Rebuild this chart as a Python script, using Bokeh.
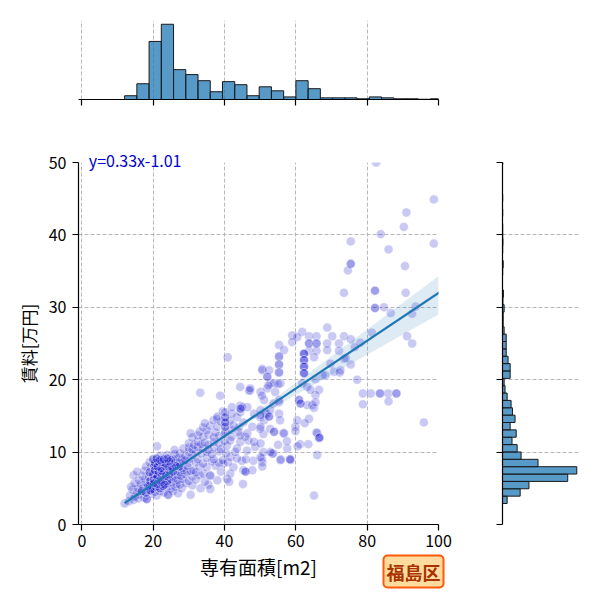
import numpy as np
from bokeh.plotting import figure
from bokeh.layouts import column, row
from bokeh.models import Range1d, Title
from bokeh.embed import file_html
from bokeh.resources import INLINE

# ---------------- data ----------------
area_m2 = [
    12.0, 13.2, 14.5, 15.8,
    13.5, 14.8, 16.2, 17.5, 18.2, 19.6, 21.0, 24.2,
    14.2, 15.5, 16.8, 18.0, 19.2, 20.5, 21.8, 23.0, 25.5, 27.0,
    13.8, 15.8, 17.2, 18.5, 19.8, 20.8, 21.9, 22.8, 23.8, 25.0, 26.2, 28.0, 30.5, 33.3,
    14.8, 16.5, 18.0, 19.0, 20.2, 21.2, 22.2, 23.2, 24.2, 25.2, 26.5, 27.5, 29.2, 31.0, 35.5,
    16.0, 17.8, 19.2, 20.2, 21.0, 22.0, 23.0, 24.0, 25.0, 26.0, 27.0, 28.2, 30.0, 32.0, 34.5, 38.0,
    14.5, 17.0, 18.8, 20.0, 21.2, 22.5, 23.5, 24.5, 25.5, 26.8, 27.8, 29.0, 31.0, 33.0, 36.0, 40.7,
    15.5, 17.5, 19.0, 20.5, 21.5, 22.5, 23.5, 24.5, 25.5, 26.5, 27.5, 28.5, 29.5, 30.5, 32.0, 34.1, 36.0, 39.0, 41.6,
    18.0, 19.3, 20.3, 21.3, 22.3, 23.3, 24.3, 25.3, 26.3, 27.3, 28.3, 29.5, 31.3, 33.0, 35.0, 37.5, 39.7, 42.5, 45.3,
    19.0, 20.5, 21.5, 22.5, 23.5, 24.5, 25.5, 26.5, 27.5, 28.5, 30.0, 32.0, 34.0, 36.5, 38.5, 41.0, 44.9, 48.1,
    20.0, 21.0, 22.0, 23.0, 24.0, 25.0, 26.0, 27.0, 28.0, 29.0, 30.5, 32.5, 35.0, 37.0, 39.5, 41.6, 43.5, 46.0, 50.5,
    22.0, 24.0, 26.0, 27.5, 29.0, 30.0, 31.0, 32.0, 33.5, 35.0, 36.5, 38.5, 40.5, 43.0, 46.3, 50.9, 53.7,
    21.1, 26.0, 28.5, 30.0, 31.0, 32.5, 34.0, 35.5, 37.0, 39.0, 40.7, 43.5, 48.6,
    30.0, 31.5, 32.5, 33.5, 34.5, 35.5, 37.0, 38.5, 40.0, 41.6, 44.4, 46.7,
    31.0, 32.5, 34.0, 35.5, 37.0, 38.5, 40.0, 42.0, 43.9, 45.8,
    30.5, 33.0, 35.0, 37.5, 40.2, 42.0, 44.4, 50.9,
    34.0, 36.0, 38.0, 40.2, 42.5, 44.0, 50.0, 52.8,
    34.5, 36.9, 37.9, 39.0, 40.2, 41.5, 43.5, 45.3,
    38.0, 40.2, 42.1, 44.4, 50.0, 51.9,
    39.5, 40.2, 42.1, 44.4, 44.5,
    33.2, 38.8, 44.4, 47.2, 40.9, 41.3, 45.2, 36.0,
    45.9, 47.8, 50.6, 50.6, 53.4, 48.3, 50.1, 46.4, 47.8, 51.1, 50.1, 51.5, 50.1, 48.3, 46.4,
    45.0, 46.9, 50.1, 52.9, 53.9, 50.6, 47.2,
    52.0, 50.6, 52.5, 52.0, 55.3, 56.7, 55.3, 55.3, 55.3, 55.7, 55.3, 55.3, 56.5, 58.4, 55.8,
    55.0, 52.9, 51.1, 50.1, 52.5, 53.9, 56.7, 59.9, 59.9, 57.6, 58.5, 55.7, 50.1, 52.3, 54.2,
    55.1, 50.5, 53.7, 52.8, 55.6, 55.3, 57.5,
    59.0, 59.0, 61.8, 60.4, 63.7, 65.8, 63.7, 65.8, 63.7, 65.8, 62.3, 62.3, 62.3, 62.3,
    65.1, 60.9, 61.3, 63.2, 64.6, 65.1, 60.4, 63.7, 61.8, 63.2, 65.5, 66.5, 65.5, 65.5, 64.1,
    61.2, 63.5, 66.0, 66.5, 66.0, 62.5, 60.5, 66.6, 65.8,
    68.8, 70.2, 68.8, 68.8, 72.1, 72.1, 69.7, 70.7, 68.3, 72.5, 67.6, 73.5, 73.5, 75.4, 75.4,
    77.2, 72.3, 78.1, 74.0, 76.5,
    82.5, 98.7, 91.0, 90.3, 83.8, 98.7, 75.4, 86.0, 75.4, 74.6, 90.6, 73.5, 82.2, 90.8, 82.2,
    84.7, 86.6, 92.6, 93.6, 91.2, 92.6, 81.3, 78.8, 81.0, 83.6, 85.9, 88.2, 78.8, 86.0, 95.9,
    65.1,
]
rent_man = [
    2.9, 3.2, 3.4, 3.6,
    4.0, 3.8, 4.1, 3.7, 3.5, 4.2, 4.0, 4.1,
    4.8, 4.5, 4.6, 4.4, 4.7, 4.5, 4.6, 4.4, 4.6, 4.3,
    5.2, 5.0, 5.1, 5.3, 4.9, 5.2, 5.0, 5.3, 5.1, 4.9, 5.2, 5.0, 4.1, 5.0,
    5.7, 5.6, 5.8, 5.5, 5.7, 5.6, 5.9, 5.5, 5.7, 5.8, 5.6, 5.5, 5.7, 5.4, 5.5,
    6.1, 6.3, 6.0, 6.2, 6.4, 6.1, 6.3, 6.0, 6.2, 6.4, 6.1, 6.3, 6.0, 6.2, 5.9, 6.1,
    6.8, 6.7, 6.6, 6.9, 6.6, 6.8, 6.7, 6.9, 6.6, 6.8, 6.7, 6.9, 6.6, 6.8, 6.7, 6.3,
    7.3, 7.4, 7.2, 7.5, 7.3, 7.4, 7.2, 7.5, 7.3, 7.4, 7.2, 7.5, 7.3, 7.4, 7.2, 7.0, 6.8, 7.3, 7.0,
    8.0, 7.9, 8.1, 8.0, 7.8, 8.1, 8.0, 7.9, 8.1, 8.0, 7.8, 8.1, 7.5, 8.0, 7.9, 8.1, 8.4, 7.9, 7.5,
    8.6, 8.5, 8.7, 8.6, 8.4, 8.7, 8.5, 8.6, 8.4, 8.7, 8.5, 8.6, 8.4, 8.7, 8.5, 8.6, 8.8, 8.8,
    9.0, 9.1, 8.9, 9.0, 9.1, 8.9, 9.0, 9.2, 9.0, 8.9, 9.1, 9.0, 9.2, 9.0, 8.9, 9.3, 9.1, 9.0, 9.1,
    9.5, 9.6, 9.7, 9.8, 9.5, 10.0, 9.6, 10.1, 9.8, 10.0, 9.7, 10.1, 9.8, 10.0, 10.2, 10.0, 9.8,
    10.8, 10.3, 10.5, 10.6, 10.4, 10.7, 10.5, 10.3, 10.6, 10.4, 10.9, 10.5, 10.7,
    11.2, 11.0, 11.4, 11.1, 11.3, 11.0, 11.4, 11.2, 11.5, 11.6, 11.4, 11.6,
    12.0, 12.3, 12.1, 12.4, 12.0, 12.2, 12.5, 12.1, 12.8, 12.1,
    12.6, 12.8, 13.0, 12.7, 12.8, 13.1, 12.3, 12.5,
    13.4, 13.6, 13.5, 13.5, 13.7, 13.4, 13.2, 13.2,
    14.0, 14.4, 14.6, 14.2, 14.1, 14.3, 14.8, 14.1,
    14.9, 14.8, 15.3, 15.5, 14.8, 15.3,
    15.6, 15.5, 16.2, 16.4, 16.0,
    18.2, 17.8, 19.0, 18.5, 23.1, 5.9, 5.6, 4.9,
    7.3, 7.5, 8.6, 8.0, 9.8, 11.4, 11.2, 12.6, 13.5, 14.4, 13.5, 15.3, 15.8, 15.3, 16.2,
    16.2, 18.5, 18.3, 19.5, 19.5, 21.5, 18.8,
    20.4, 21.3, 21.3, 18.8, 24.8, 24.1, 23.2, 22.1, 21.0, 19.5, 17.2, 15.3, 12.6, 9.0, 9.0,
    11.0, 10.0, 17.2, 15.1, 14.9, 12.8, 12.6, 13.5, 12.9, 10.5, 8.9, 8.9, 9.3, 19.2, 18.3,
    19.4, 17.8, 16.7, 15.8, 14.4, 16.9, 11.5,
    26.1, 25.2, 26.6, 25.9, 26.0, 26.0, 25.0, 25.0, 24.0, 24.0, 23.6, 22.7, 21.8, 20.9,
    23.1, 17.2, 16.7, 16.5, 16.5, 16.1, 14.4, 14.6, 19.5, 19.0, 20.1, 18.6, 17.9, 16.9, 18.6,
    11.1, 11.1, 12.6, 11.9, 9.6, 14.0, 10.8, 12.0, 12.7,
    27.2, 26.0, 25.0, 24.1, 25.0, 24.0, 22.2, 21.1, 20.6, 21.3, 20.6, 22.9, 26.0, 25.6, 22.1,
    20.0, 21.0, 25.1, 23.0, 24.5,
    50.0, 44.9, 43.1, 41.1, 40.1, 38.8, 39.1, 38.0, 36.0, 35.1, 35.7, 32.0, 32.3, 32.0, 29.9,
    30.0, 29.2, 29.1, 30.1, 26.0, 25.0, 26.5, 18.1, 18.1, 18.1, 18.1, 18.1, 16.6, 17.0, 14.1,
    4.0,
]
# listings that appear more than once (extra copies)
repeat_area = [24.2, 18.2, 62.3, 62.3, 62.3, 62.3, 62.3, 62.3, 62.3, 62.3, 55.3, 55.3, 55.3,
               60.9, 61.3, 63.7, 65.8, 75.4, 82.2, 82.2, 83.6, 88.2, 40.2, 40.2, 40.2,
               52.0, 52.5, 53.9, 45.9, 58.4, 66.6, 44.5, 22.0, 23.0, 25.0, 20.5, 27.3, 21.3]
repeat_rent = [4.1, 3.5, 23.6, 23.6, 22.7, 22.7, 21.8, 21.8, 20.9, 20.9, 23.2, 22.1, 21.0,
               17.2, 16.7, 25.0, 25.0, 36.0, 32.3, 29.9, 18.1, 18.1, 14.8, 14.1, 13.5,
               20.4, 14.9, 12.8, 7.3, 9.0, 12.0, 16.0, 6.1, 7.2, 8.9, 7.5, 8.0, 8.0]
dense_repeat_area = [19.2, 20.2, 21.0, 22.0, 23.0, 24.0,
                     20.0, 21.2, 22.5, 23.5, 24.5,
                     19.0, 20.5, 21.5, 22.5, 24.5, 25.5,
                     20.3, 21.3, 22.3, 23.3, 24.3, 25.3, 26.3,
                     20.5, 21.5, 22.5, 23.5, 24.5,
                     20.0, 21.0, 22.0, 23.0, 24.0,
                     18.5, 19.8, 20.8, 21.9, 22.8,
                     20.2, 21.2, 22.2, 23.2,
                     16.8, 18.0, 19.2]
dense_repeat_rent = [6.0, 6.2, 6.4, 6.1, 6.3, 6.0,
                     6.9, 6.6, 6.8, 6.7, 6.9,
                     7.2, 7.5, 7.3, 7.4, 7.5, 7.3,
                     8.1, 8.0, 7.8, 8.1, 8.0, 7.9, 8.1,
                     8.5, 8.7, 8.6, 8.4, 8.7,
                     9.0, 9.1, 8.9, 9.0, 9.1,
                     5.3, 4.9, 5.2, 5.0, 5.3,
                     5.7, 5.6, 5.9, 5.5,
                     4.6, 4.4, 4.7]

# marginal histograms (counts)
area_bin_start = 12.0
area_bin_width = 3.43
area_counts = [16, 67, 247, 320, 127, 106, 80, 33, 76, 63, 16, 54, 37, 11, 80, 46,
               7, 7, 7, 3, 11, 7, 3, 3, 1, 3]
rent_bin_start = 2.9
rent_bin_width = 1.017
rent_counts = [20, 76, 114, 281, 320, 153, 80, 63, 41, 59, 33, 54, 43, 37, 20, 11, 7,
               33, 33, 24, 16, 16, 16, 7, 3, 3, 7, 2, 4, 0, 0, 1, 3, 0, 1, 2, 1, 1, 0,
               1, 0, 1, 0, 0, 0, 0, 1]

# regression
slope = 0.33
intercept = -1.01
ci_x = [12, 20, 30, 40, 50, 60, 70, 80, 90, 100]
ci_up = [0.5, 0.35, 0.2, 0.15, 0.4, 0.8, 1.15, 1.55, 1.95, 2.3]
ci_dn = [0.5, 0.35, 0.2, 0.15, 0.45, 0.9, 1.4, 1.95, 2.45, 3.0]

x_ticks = [0, 20, 40, 60, 80, 100]
y_ticks = [0, 10, 20, 30, 40, 50]
eq_label = "y=0.33x-1.01"
ward_label = "福島区"
x_title = "専有面積[m2]"
y_title = "賃料[万円]"

assert len(area_m2) == len(rent_man)
assert len(repeat_area) == len(repeat_rent)
assert len(dense_repeat_area) == len(dense_repeat_rent)

# ---------------- styling ----------------
FONT = "Noto Sans CJK JP"
GRID = "#b0b0b0"
BAR_FILL = "#1f77b4"

def style_axis(ax, ticks, labels=True):
    ax.ticker = ticks
    ax.axis_line_color = "black"
    ax.axis_line_width = 1.2
    ax.major_tick_line_color = "black"
    ax.major_tick_line_width = 1.2
    ax.major_tick_out = 6
    ax.major_tick_in = 0
    ax.minor_tick_line_color = None
    ax.major_label_text_font = FONT
    ax.major_label_text_color = "black"
    ax.major_label_text_font_size = "16px"
    if not labels:
        ax.major_label_overrides = {t: "" for t in ticks}
        ax.major_label_standoff = 0

def style_grid(g):
    g.grid_line_color = GRID
    g.grid_line_dash = "4 2"
    g.grid_line_width = 0.9

x_range = Range1d(-0.93, 100)
y_range = Range1d(0, 50)

# ---------------- top histogram ----------------
a_edges = area_bin_start + area_bin_width * np.arange(len(area_counts) + 1)
top = figure(frame_width=360, frame_height=79, min_border_left=78, min_border_right=10,
             min_border_top=20, min_border_bottom=31, x_range=x_range,
             y_range=Range1d(0, max(area_counts) * 1.05), y_axis_location=None,
             output_backend="svg", toolbar_location=None)
top.quad(left=a_edges[:-1], right=a_edges[1:], bottom=0, top=area_counts,
         fill_color=BAR_FILL, fill_alpha=0.75, line_color="#1a1a1a", line_width=1)
style_axis(top.xaxis[0], x_ticks, labels=False)
style_grid(top.xgrid[0])
top.ygrid.visible = False
top.outline_line_color = None

# ---------------- main scatter ----------------
main = figure(frame_width=360, frame_height=362, min_border_left=78, min_border_right=20,
              min_border_top=32, min_border_bottom=68, x_range=x_range, y_range=y_range,
              output_backend="svg", toolbar_location=None)
all_x = np.array(area_m2 + repeat_area + dense_repeat_area)
all_y = np.array(rent_man + repeat_rent + dense_repeat_rent)
main.scatter(all_x, all_y, size=9, fill_color="#0000cd", fill_alpha=0.21,
             line_color="white", line_alpha=0.35, line_width=1)
cx = np.array(ci_x, dtype=float)
fit_c = slope * cx + intercept
main.varea(x=cx, y1=fit_c - np.array(ci_dn), y2=fit_c + np.array(ci_up),
           fill_color=BAR_FILL, fill_alpha=0.15)
lx = np.array([a_edges[0], a_edges[-1]])
main.line(lx, slope * lx + intercept, line_color=BAR_FILL, line_width=2.2)

style_axis(main.xaxis[0], x_ticks)
style_axis(main.yaxis[0], y_ticks)
main.xaxis.major_label_standoff = 4
main.yaxis.major_label_standoff = 6
main.xaxis.axis_label = x_title
main.yaxis.axis_label = y_title
for ax, size in ((main.xaxis[0], "19px"), (main.yaxis[0], "17px")):
    ax.axis_label_text_font = FONT
    ax.axis_label_text_font_size = size
    ax.axis_label_text_font_style = "normal"
    ax.axis_label_text_color = "black"
main.xaxis.axis_label_standoff = 3
main.yaxis.axis_label_standoff = 5
style_grid(main.xgrid[0])
style_grid(main.ygrid[0])
main.outline_line_color = None

# equation text straddling the top edge of the plot frame
main.add_layout(Title(text=eq_label, align="left", offset=10.3, standoff=-18,
                      vertical_align="bottom", text_baseline="top",
                      text_font=FONT, text_font_size="16px", text_font_style="normal",
                      text_color="#0000cd"), "above")

# ward badge at the lower right, level with the x-axis title
main.add_layout(Title(text=ward_label, align="right", offset=-5, standoff=-54,
                      vertical_align="top", text_baseline="top",
                      text_font=FONT, text_font_size="18px", text_font_style="bold",
                      text_color="#a83200", background_fill_color="#ffdc9e",
                      border_line_color="#ff5a0a", border_line_width=2,
                      padding=3, border_radius=4), "below")

# ---------------- right histogram ----------------
r_edges = rent_bin_start + rent_bin_width * np.arange(len(rent_counts) + 1)
right = figure(frame_width=78, frame_height=362, min_border_left=44, min_border_right=8,
               min_border_top=32, min_border_bottom=68, y_range=y_range,
               x_range=Range1d(0, max(rent_counts) * 1.05), x_axis_location=None,
               output_backend="svg", toolbar_location=None)
right.quad(left=0, right=rent_counts, bottom=r_edges[:-1], top=r_edges[1:],
           fill_color=BAR_FILL, fill_alpha=0.75, line_color="#1a1a1a", line_width=1)
style_axis(right.yaxis[0], y_ticks, labels=False)
style_grid(right.ygrid[0])
right.xgrid.visible = False
right.outline_line_color = None

layout = column(top, row(main, right))
open("out.html", "w").write(file_html(layout, INLINE))
